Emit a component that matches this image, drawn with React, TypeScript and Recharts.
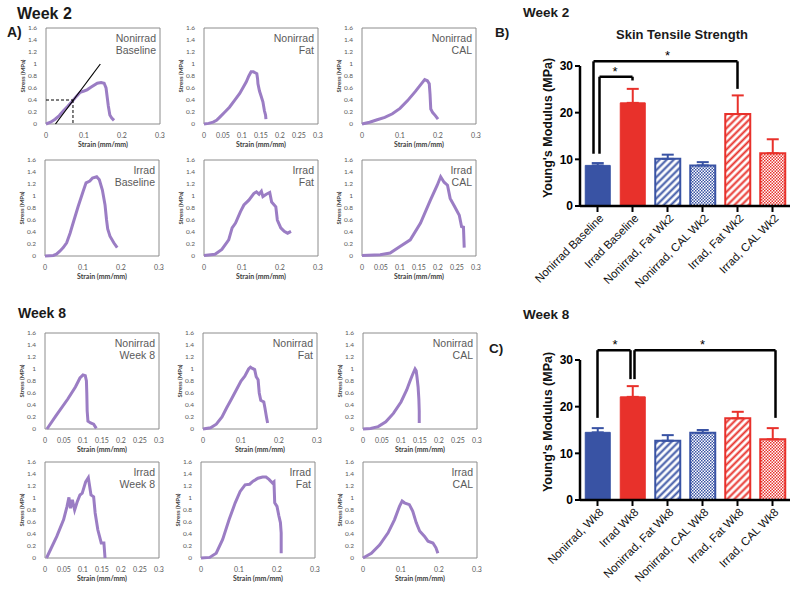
import React from 'react';
import {
  LineChart, Line, XAxis, YAxis, ReferenceArea, ReferenceLine,
  BarChart, Bar, Cell, ErrorBar,
} from 'recharts';

// ---------- stress-strain curves: [strain (mm/mm), stress (MPa)] ----------
const w2NonirradBaseline = [[0,0],[0.012,0.03],[0.024,0.08],[0.035,0.14],[0.046,0.22],[0.058,0.3],[0.068,0.37],[0.08,0.46],[0.09,0.53],[0.1,0.55],[0.108,0.57],[0.12,0.62],[0.135,0.68],[0.145,0.69],[0.153,0.68],[0.158,0.6],[0.161,0.45],[0.164,0.3],[0.168,0.15],[0.173,0.1],[0.179,0.06]];
const w2NonirradFat = [[0,0],[0.012,0.01],[0.024,0.03],[0.033,0.06],[0.041,0.11],[0.055,0.2],[0.067,0.28],[0.08,0.39],[0.094,0.51],[0.104,0.62],[0.111,0.7],[0.118,0.8],[0.124,0.87],[0.13,0.87],[0.136,0.85],[0.139,0.84],[0.141,0.75],[0.142,0.67],[0.146,0.55],[0.15,0.47],[0.155,0.37],[0.159,0.22],[0.162,0.15],[0.163,0.08]];
const w2NonirradCal = [[0,0],[0.02,0.03],[0.04,0.07],[0.06,0.11],[0.08,0.17],[0.1,0.26],[0.12,0.39],[0.14,0.54],[0.155,0.66],[0.165,0.74],[0.172,0.72],[0.177,0.67],[0.179,0.5],[0.181,0.25],[0.186,0.19],[0.193,0.14],[0.2,0.08]];
const w2IrradBaseline = [[0,0],[0.022,0.01],[0.03,0.03],[0.039,0.08],[0.048,0.14],[0.057,0.22],[0.066,0.38],[0.074,0.55],[0.087,0.82],[0.1,1.07],[0.108,1.22],[0.118,1.25],[0.125,1.3],[0.136,1.32],[0.143,1.27],[0.151,1.1],[0.158,0.85],[0.162,0.6],[0.165,0.45],[0.171,0.33],[0.181,0.22],[0.19,0.14]];
const w2IrradFat = [[0,0.01],[0.029,0.03],[0.047,0.11],[0.065,0.27],[0.074,0.47],[0.083,0.55],[0.096,0.74],[0.105,0.85],[0.118,0.93],[0.131,1.04],[0.138,1.07],[0.145,1.03],[0.151,1.08],[0.155,0.99],[0.164,1.03],[0.173,1.06],[0.178,0.9],[0.189,0.82],[0.193,0.6],[0.202,0.47],[0.211,0.41],[0.22,0.38],[0.229,0.41]];
const w2IrradCal = [[0,0.01],[0.048,0.02],[0.074,0.05],[0.1,0.16],[0.127,0.27],[0.154,0.55],[0.18,0.93],[0.198,1.18],[0.207,1.32],[0.216,1.23],[0.225,1.18],[0.232,0.96],[0.244,0.82],[0.256,0.68],[0.262,0.49],[0.267,0.48],[0.269,0.14]];
const w8NonirradWeek8 = [[0.005,0],[0.03,0.23],[0.06,0.5],[0.08,0.7],[0.092,0.85],[0.1,0.9],[0.106,0.89],[0.109,0.8],[0.11,0.6],[0.111,0.3],[0.113,0.13],[0.12,0.1],[0.128,0.08],[0.135,0.01]];
const w8NonirradFat = [[0,0],[0.02,0.02],[0.035,0.08],[0.05,0.2],[0.062,0.35],[0.075,0.5],[0.09,0.68],[0.1,0.8],[0.11,0.88],[0.12,1.0],[0.125,1.03],[0.13,1.01],[0.136,0.99],[0.14,0.87],[0.145,0.82],[0.148,0.6],[0.152,0.48],[0.16,0.45],[0.163,0.35],[0.167,0.2],[0.17,0.1]];
const w8NonirradCal = [[0,0],[0.02,0.01],[0.04,0.04],[0.06,0.12],[0.08,0.26],[0.1,0.45],[0.115,0.65],[0.125,0.82],[0.13,0.9],[0.137,1.0],[0.14,0.97],[0.142,0.87],[0.145,0.7],[0.147,0.5],[0.148,0.3],[0.148,0.1]];
const w8IrradWeek8 = [[0.004,0],[0.031,0.36],[0.049,0.64],[0.058,0.86],[0.063,1.01],[0.067,0.83],[0.072,0.97],[0.078,0.8],[0.085,0.94],[0.092,1.05],[0.098,1.08],[0.107,1.27],[0.114,1.34],[0.121,1.05],[0.128,1.02],[0.132,0.75],[0.139,0.47],[0.148,0.25],[0.155,0.25],[0.158,0]];
const w8IrradFat = [[0,0],[0.023,0.01],[0.04,0.08],[0.057,0.31],[0.074,0.64],[0.09,0.92],[0.103,1.11],[0.116,1.22],[0.128,1.23],[0.137,1.28],[0.15,1.33],[0.162,1.35],[0.171,1.35],[0.179,1.31],[0.188,1.25],[0.192,1.27],[0.194,0.92],[0.2,0.86],[0.205,0.7],[0.209,0.59],[0.211,0.42],[0.211,0.08]];
const w8IrradCal = [[0,0],[0.022,0.08],[0.044,0.22],[0.066,0.42],[0.083,0.64],[0.096,0.86],[0.103,0.95],[0.109,0.92],[0.122,0.89],[0.131,0.78],[0.14,0.59],[0.149,0.45],[0.162,0.36],[0.171,0.28],[0.184,0.25],[0.192,0.17],[0.197,0.08]];

const stressTicks = [0, 0.2, 0.4, 0.6, 0.8, 1, 1.2, 1.4, 1.6];
const strainTicksTenths = [0, 0.1, 0.2, 0.3];
const strainTicksTwentieths = [0, 0.05, 0.1, 0.15, 0.2, 0.25, 0.3];

// modulus construction on the baseline curve
const tangentLine = [[0.025, 0], [0.143, 1.0]];
const yieldPoint = [0.071, 0.4];

// ---------- Young's modulus bar charts ----------
const wk2Groups = ['Nonirrad Baseline', 'Irrad Baseline', 'Nonirrad, Fat Wk2', 'Nonirrad, CAL Wk2', 'Irrad, Fat Wk2', 'Irrad, CAL Wk2'];
const wk2Means = [8.7, 22.1, 10.1, 8.7, 19.7, 11.3];
const wk2Sem = [0.5, 3.0, 0.9, 0.7, 4.0, 3.0];
const wk8Groups = ['Nonirrad, Wk8', 'Irrad Wk8', 'Nonirrad, Fat Wk8', 'Nonirrad, CAL Wk8', 'Irrad, Fat Wk8', 'Irrad, CAL Wk8'];
const wk8Means = [14.5, 22.1, 12.7, 14.4, 17.5, 13.0];
const wk8Sem = [0.9, 2.3, 1.2, 0.6, 1.4, 2.4];
const modulusTicks = [0, 10, 20, 30];

// significance brackets: [from group, to group, bracket height, from-leg bottom, to-leg bottom]
const wk2Brackets = [[0, 4, 31.0, 11.2, 25.1], [0, 1, 27.7, 11.2, 26.9]];
const wk8Brackets = [[0, 1, 32.1, 17.6, 25.9], [1, 5, 32.1, 25.9, 17.6]];

// ---------- styles ----------
const PURPLE = '#9b7dc4';
const BLUE = '#3953a4';
const RED = '#e8312b';
const barLooks = ['solidBlue', 'solidRed', 'hatchBlue', 'dotBlue', 'hatchRed', 'dotRed'];
const wk2Nudges = [[-4, 0], [2, 0]];
const wk8Nudges = [[0, -2], [2, 3]];
const SANS = '"Liberation Sans", Arial, Helvetica, sans-serif';
const SMALL = 'Lato, "Open Sans", sans-serif';

const panels = [
  { curve: w2NonirradBaseline, text: ['Nonirrad', 'Baseline'], ticks: strainTicksTenths, left: 46, top: 28, construction: true },
  { curve: w2NonirradFat, text: ['Nonirrad', 'Fat'], ticks: strainTicksTwentieths, left: 204, top: 28 },
  { curve: w2NonirradCal, text: ['Nonirrad', 'CAL'], ticks: strainTicksTenths, left: 362, top: 28 },
  { curve: w2IrradBaseline, text: ['Irrad', 'Baseline'], ticks: strainTicksTenths, left: 45, top: 160 },
  { curve: w2IrradFat, text: ['Irrad', 'Fat'], ticks: strainTicksTenths, left: 204, top: 160 },
  { curve: w2IrradCal, text: ['Irrad', 'CAL'], ticks: strainTicksTwentieths, left: 362, top: 160 },
  { curve: w8NonirradWeek8, text: ['Nonirrad', 'Week 8'], ticks: strainTicksTwentieths, left: 45, top: 333 },
  { curve: w8NonirradFat, text: ['Nonirrad', 'Fat'], ticks: strainTicksTenths, left: 203, top: 333 },
  { curve: w8NonirradCal, text: ['Nonirrad', 'CAL'], ticks: strainTicksTwentieths, left: 363, top: 333 },
  { curve: w8IrradWeek8, text: ['Irrad', 'Week 8'], ticks: strainTicksTwentieths, left: 45, top: 462 },
  { curve: w8IrradFat, text: ['Irrad', 'Fat'], ticks: strainTicksTenths, left: 201, top: 462 },
  { curve: w8IrradCal, text: ['Irrad', 'CAL'], ticks: strainTicksTenths, left: 363, top: 462 },
];

const cornerText = (lines: string[]) => (props: any) => {
  const vb = props.viewBox || { x: 0, y: 0, width: 0 };
  const x = vb.x + vb.width - 4;
  const y = vb.y + 14;
  return (
    <text x={x} y={y} textAnchor="end" fontSize={10.5} fill="#5a5a5a" fontFamily={SANS}>
      {lines.map((l, i) => (
        <tspan key={i} x={x} dy={i === 0 ? 0 : 12}>{l}</tspan>
      ))}
    </text>
  );
};

function StrainPanel({ p }: { p: any }) {
  const data = p.curve.map(([x, y]: number[]) => ({ x, y }));
  return (
    <div style={{ position: 'absolute', left: p.left - 32, top: p.top - 6 }}>
      <LineChart width={154} height={130} data={data} margin={{ top: 6, right: 8, bottom: 0, left: 0 }}>
        <XAxis
          dataKey="x" type="number" domain={[0, 0.3]} ticks={p.ticks} interval={0}
          axisLine={false} tickLine={false} tickMargin={3} height={28}
          tick={{ fontSize: 7, fill: '#595959', fontFamily: SMALL }}
          label={{ value: 'Strain (mm/mm)', position: 'insideBottom', offset: 5, fontSize: 7, fontWeight: 700, fill: '#404040', fontFamily: SMALL }}
        />
        <YAxis
          type="number" domain={[0, 1.6]} ticks={stressTicks} interval={0} width={32}
          axisLine={false} tickLine={false} tickMargin={3}
          tick={{ fontSize: 6.5, fill: '#595959', fontFamily: SMALL }}
          label={{ value: 'Stress (MPa)', angle: -90, position: 'center', dx: -7, fontSize: 6, fontWeight: 700, fill: '#404040', fontFamily: SMALL }}
        />
        <ReferenceArea
          x1={0} x2={0.3} y1={0} y2={1.6} fill="none" fillOpacity={0}
          stroke="#8c8c8c" strokeWidth={1} ifOverflow="visible"
          label={cornerText(p.text)}
        />
        <Line dataKey="y" type="linear" stroke={PURPLE} strokeWidth={3} dot={false} isAnimationActive={false} />
        {p.construction && (
          <ReferenceLine
            segment={[{ x: tangentLine[0][0], y: tangentLine[0][1] }, { x: tangentLine[1][0], y: tangentLine[1][1] }]}
            stroke="#000" strokeWidth={1.2} ifOverflow="visible"
          />
        )}
        {p.construction && (
          <ReferenceLine
            segment={[{ x: 0, y: yieldPoint[1] }, { x: yieldPoint[0], y: yieldPoint[1] }]}
            stroke="#000" strokeWidth={1} strokeDasharray="3 2" ifOverflow="visible"
          />
        )}
        {p.construction && (
          <ReferenceLine
            segment={[{ x: yieldPoint[0], y: yieldPoint[1] }, { x: yieldPoint[0], y: 0 }]}
            stroke="#000" strokeWidth={1} strokeDasharray="3 2" ifOverflow="visible"
          />
        )}
      </LineChart>
    </div>
  );
}

const SlantTick = (props: any) => {
  const { x, y, payload } = props;
  return (
    <g transform={`translate(${x + 4},${y + 2})`}>
      <text x={0} y={0} dy="0.35em" textAnchor="end" transform="rotate(-45)" fontSize={11.5} fill="#111" fontFamily={SANS}>
        {payload.value}
      </text>
    </g>
  );
};

const bracketShape = (dx1: number, dx2: number) => (props: any) => (
  <line x1={props.x1 + dx1} y1={props.y1} x2={props.x2 + dx2} y2={props.y2} stroke="#000" strokeWidth={2.5} />
);

function ModulusChart({ id, groups, means, sems, brackets, nudges, left, top }: any) {
  const data = groups.map((g: string, i: number) => {
    const isBlue = barLooks[i].endsWith('Blue');
    return {
      name: g,
      mean: means[i],
      errBlue: isBlue ? [0, sems[i]] : null,
      errRed: isBlue ? null : [0, sems[i]],
    };
  });
  const fillFor = (look: string) => {
    if (look === 'solidBlue') return BLUE;
    if (look === 'solidRed') return RED;
    return `url(#${id}-${look})`;
  };
  return (
    <div style={{ position: 'absolute', left, top }}>
      <BarChart width={300} height={256} data={data} margin={{ top: 26, right: 10, bottom: 0, left: 0 }} barCategoryGap="15%">
        <defs>
          {[['Blue', BLUE], ['Red', RED]].map(([n, c]) => (
            <React.Fragment key={n}>
              <pattern id={`${id}-hatch${n}`} width={5} height={5} patternUnits="userSpaceOnUse" patternTransform="rotate(45)">
                <rect width={5} height={5} fill="#fff" />
                <line x1={2.5} y1={0} x2={2.5} y2={5} stroke={c} strokeWidth={2} />
              </pattern>
              <pattern id={`${id}-dot${n}`} width={3} height={3} patternUnits="userSpaceOnUse">
                <rect width={3} height={3} fill="#fff" />
                <rect width={1.5} height={1.5} fill={c} />
                <rect x={1.5} y={1.5} width={1.5} height={1.5} fill={c} />
              </pattern>
            </React.Fragment>
          ))}
        </defs>
        <XAxis
          dataKey="name" type="category" interval={0} height={90}
          axisLine={{ stroke: '#000', strokeWidth: 2.5 }}
          tickLine={{ stroke: '#000', strokeWidth: 2 }} tickSize={6}
          tick={<SlantTick />}
        />
        <YAxis
          type="number" domain={[0, 30]} ticks={modulusTicks} interval={0} width={80}
          axisLine={{ stroke: '#000', strokeWidth: 2.5 }}
          tickLine={{ stroke: '#000', strokeWidth: 2 }} tickSize={5} tickMargin={2}
          tick={{ fontSize: 12, fontWeight: 700, fill: '#000', fontFamily: SANS }}
          label={{ value: "Young's Modulus (MPa)", angle: -90, position: 'center', dx: 8, dy: -8, fontSize: 12.5, fontWeight: 700, fill: '#111', fontFamily: SANS }}
        />
        <Bar dataKey="mean" isAnimationActive={false}>
          {data.map((_: any, i: number) => (
            <Cell
              key={i}
              fill={fillFor(barLooks[i])}
              stroke={barLooks[i].endsWith('Blue') ? BLUE : RED}
              strokeWidth={barLooks[i].startsWith('solid') ? 1 : 2}
            />
          ))}
          <ErrorBar dataKey="errBlue" width={6} strokeWidth={2} stroke={BLUE} direction="y" />
          <ErrorBar dataKey="errRed" width={6} strokeWidth={2} stroke={RED} direction="y" />
        </Bar>
        {brackets.map((b: number[], k: number) => {
          const [a, c, h, ya, yc] = b;
          const [dA, dC] = nudges[k];
          return (
            <React.Fragment key={k}>
              <ReferenceLine position="middle" ifOverflow="visible"
                segment={[{ x: groups[a], y: ya }, { x: groups[a], y: h }]}
                shape={bracketShape(dA, dA)} />
              <ReferenceLine position="middle" ifOverflow="visible"
                segment={[{ x: groups[a], y: h }, { x: groups[c], y: h }]}
                shape={bracketShape(dA, dC)}
                label={{ value: '*', position: 'top', offset: 1, fontSize: 13, fill: '#000', fontFamily: SANS }} />
              <ReferenceLine position="middle" ifOverflow="visible"
                segment={[{ x: groups[c], y: h }, { x: groups[c], y: yc }]}
                shape={bracketShape(dC, dC)} />
            </React.Fragment>
          );
        })}
      </BarChart>
    </div>
  );
}

const heading = (text: string, left: number, top: number, size: number) => (
  <div style={{ position: 'absolute', left, top, fontSize: size, lineHeight: `${size + 2}px`, fontWeight: 700, color: '#1a1a1a', fontFamily: SANS, whiteSpace: 'nowrap' }}>
    {text}
  </div>
);

export default function App() {
  return (
    <div style={{ position: 'absolute', left: 0, top: 0, width: 800, height: 589, background: '#fff', overflow: 'hidden', fontFamily: SANS }}>
      {heading('Week 2', 17, 5, 16)}
      {heading('A)', 7, 24, 14)}
      {heading('Week 8', 18, 305, 14)}
      {heading('Week 2', 523, 5, 13.5)}
      {heading('B)', 495, 25, 13.5)}
      {heading('Week 8', 523, 307, 13.5)}
      {heading('C)', 489, 341, 13.5)}
      <div style={{ position: 'absolute', left: 616, top: 27, fontSize: 13, lineHeight: '15px', fontWeight: 700, color: '#1a1a1a', fontFamily: SANS, whiteSpace: 'nowrap' }}>
        Skin Tensile Strength
      </div>
      {panels.map((p, i) => <StrainPanel key={i} p={p} />)}
      <ModulusChart id="wk2" groups={wk2Groups} means={wk2Means} sems={wk2Sem} brackets={wk2Brackets} nudges={wk2Nudges} left={500} top={40} />
      <ModulusChart id="wk8" groups={wk8Groups} means={wk8Means} sems={wk8Sem} brackets={wk8Brackets} nudges={wk8Nudges} left={500} top={334} />
    </div>
  );
}
